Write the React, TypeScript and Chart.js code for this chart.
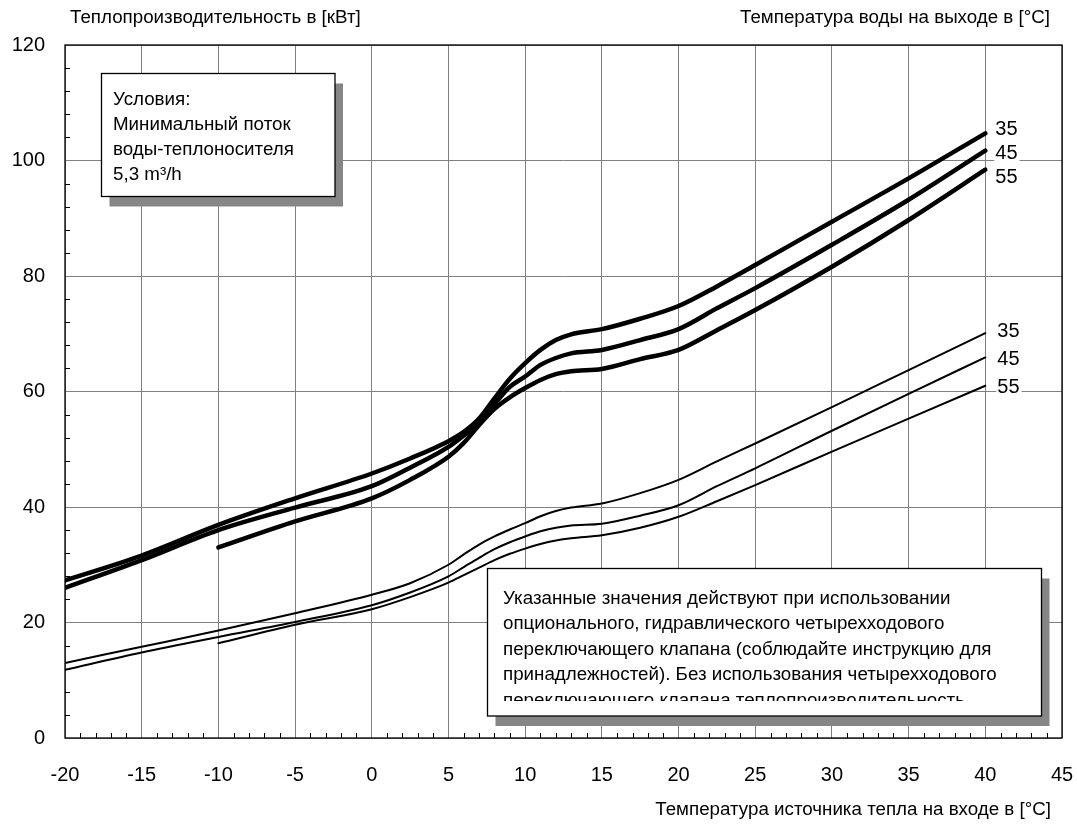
import React, { useEffect, useRef } from "react";
import { Chart, registerables } from "chart.js";

Chart.register(...registerables);

// ---- data ----
const inletTemps = [-20, -15, -10, -5, 0, 2.5, 5, 6, 7, 8, 9, 10, 11, 12, 13, 15, 17.5, 20, 22.5, 25, 30, 35, 40];

const heavy35 = [27.3, 31.6, 36.9, 41.5, 45.8, 48.4, 51.4, 53.0, 55.3, 58.8, 62.2, 64.9, 67.2, 68.9, 69.9, 70.8, 72.6, 74.8, 78.2, 81.9, 89.4, 96.9, 104.7];
const heavy45 = [26.0, 30.8, 36.0, 39.9, 43.6, 46.8, 50.4, 52.4, 54.6, 57.8, 60.8, 62.6, 64.6, 65.8, 66.6, 67.2, 68.9, 70.8, 74.4, 77.9, 85.4, 93.2, 101.7];
const heavy55 = [null, null, 33.0, 37.5, 41.5, 44.7, 48.7, 51.1, 54.2, 57.0, 59.0, 60.6, 62.0, 63.0, 63.5, 63.9, 65.6, 67.2, 70.6, 74.1, 81.6, 89.7, 98.4];

const thin35 = [13.0, 15.8, 18.6, 21.6, 24.8, 26.8, 30.0, 31.8, 33.5, 34.9, 36.1, 37.2, 38.4, 39.3, 39.9, 40.6, 42.4, 44.7, 47.9, 51.0, 57.3, 63.7, 70.1];
const thin45 = [11.8, 14.8, 17.5, 20.1, 23.0, 25.2, 28.0, 29.6, 31.2, 32.7, 33.9, 34.9, 35.8, 36.4, 36.8, 37.1, 38.5, 40.3, 43.6, 46.7, 53.2, 59.6, 65.9];
const thin55 = [null, null, 16.4, 19.6, 22.3, 24.4, 26.9, 28.2, 29.5, 30.8, 31.9, 32.8, 33.6, 34.2, 34.6, 35.1, 36.4, 38.3, 41.0, 43.8, 49.6, 55.3, 61.0];

const outletLabels = ["35", "45", "55"];

const xTickValues = [-20, -15, -10, -5, 0, 5, 10, 15, 20, 25, 30, 35, 40, 45];
const yTickValues = [0, 20, 40, 60, 80, 100, 120];

const titleLeft = "Теплопроизводительность в [кВт]";
const titleRight = "Температура воды на выходе в [°C]";
const titleBottom = "Температура источника тепла на входе в [°C]";

const box1Lines = ["Условия:", "Минимальный поток", "воды-теплоносителя", "5,3 m³/h"];
const box2Lines = [
  "Указанные значения действуют при использовании",
  "опционального, гидравлического четырехходового",
  "переключающего клапана (соблюдайте инструкцию для",
  "принадлежностей). Без использования четырехходового",
  "переключающего клапана теплопроизводительность",
];

const FONT = '"Liberation Sans", Arial, Helvetica, sans-serif';
const TEXT_SIZE = 18.75;

function toPoints(ys: (number | null)[]) {
  return inletTemps.map((x, i) => ({ x, y: ys[i] }));
}

function drawBox(
  ctx: CanvasRenderingContext2D,
  x: number,
  y: number,
  w: number,
  h: number,
  lines: string[],
  textX: number,
  firstY: number,
  lineH: number,
  clipBottom: number
) {
  ctx.save();
  ctx.fillStyle = "#868686";
  ctx.fillRect(x + 8, y + 10, w, h);
  ctx.fillStyle = "#ffffff";
  ctx.fillRect(x, y, w, h);
  ctx.strokeStyle = "#000";
  ctx.lineWidth = 1.3;
  ctx.strokeRect(x, y, w, h);
  ctx.beginPath();
  ctx.rect(x, y, w, clipBottom - y);
  ctx.clip();
  ctx.fillStyle = "#000";
  ctx.font = `${TEXT_SIZE}px ${FONT}`;
  ctx.textAlign = "left";
  ctx.textBaseline = "middle";
  lines.forEach((t, i) => ctx.fillText(t, textX, firstY + i * lineH));
  ctx.restore();
}

const overlayPlugin = {
  id: "overlay",
  beforeDatasetsDraw(chart: any) {
    const { ctx, chartArea, scales } = chart;
    const xs = scales.x;
    const ys = scales.y;
    ctx.save();
    ctx.strokeStyle = "#000";
    ctx.lineWidth = 1;
    for (let v = -19; v < 45; v++) {
      if (v % 5 === 0) continue;
      const px = Math.round(xs.getPixelForValue(v)) + 0.5;
      ctx.beginPath();
      ctx.moveTo(px, chartArea.bottom);
      ctx.lineTo(px, chartArea.bottom - 5);
      ctx.stroke();
    }
    for (let v = 4; v < 120; v += 4) {
      if (v % 20 === 0) continue;
      const py = Math.round(ys.getPixelForValue(v)) + 0.5;
      ctx.beginPath();
      ctx.moveTo(chartArea.left, py);
      ctx.lineTo(chartArea.left + 5, py);
      ctx.stroke();
    }
    ctx.lineWidth = 1.3;
    ctx.strokeRect(chartArea.left, chartArea.top, chartArea.right - chartArea.left, chartArea.bottom - chartArea.top);
    ctx.restore();
  },
  afterDatasetsDraw(chart: any) {
    const { ctx, scales } = chart;
    const xs = scales.x;
    const ys = scales.y;
    ctx.save();
    ctx.font = `20px ${FONT}`;
    ctx.textAlign = "left";
    ctx.textBaseline = "middle";
    const groups = [
      { data: [heavy35, heavy45, heavy55], dx: 10, dy: [-5, 2, 6.5] },
      { data: [thin35, thin45, thin55], dx: 12, dy: [-2.5, 1.3, 1] },
    ];
    groups.forEach((g) => {
      g.data.forEach((arr, i) => {
        const last = arr[arr.length - 1] as number;
        const px = xs.getPixelForValue(inletTemps[inletTemps.length - 1]) + g.dx;
        const py = ys.getPixelForValue(last) + g.dy[i];
        const t = outletLabels[i];
        const w = ctx.measureText(t).width;
        ctx.fillStyle = "#fff";
        ctx.fillRect(px - 1, py - 9, w + 3, 18);
        ctx.fillStyle = "#000";
        ctx.fillText(t, px, py + 1);
      });
    });
    ctx.restore();

    drawBox(ctx, 101.5, 73.5, 233.5, 123, box1Lines, 113, 100, 25, 196);
    drawBox(ctx, 487.5, 568.5, 554, 147.5, box2Lines, 503, 598.5, 25.5, 701);

    ctx.save();
    ctx.fillStyle = "#000";
    ctx.font = `${TEXT_SIZE}px ${FONT}`;
    ctx.textBaseline = "middle";
    ctx.textAlign = "left";
    ctx.fillText(titleLeft, 70, 18);
    ctx.textAlign = "right";
    ctx.fillText(titleRight, 1050, 18);
    ctx.fillText(titleBottom, 1051, 810);
    ctx.restore();
  },
};

export default function App() {
  const ref = useRef<HTMLCanvasElement | null>(null);

  useEffect(() => {
    if (!ref.current) return;
    const heavy = { borderColor: "#000", borderWidth: 4.5, pointRadius: 0, borderCapStyle: "round", borderJoinStyle: "round", cubicInterpolationMode: "monotone", fill: false };
    const thin = { borderColor: "#000", borderWidth: 2, pointRadius: 0, borderCapStyle: "round", borderJoinStyle: "round", cubicInterpolationMode: "monotone", fill: false };
    const chart = new Chart(ref.current, {
      type: "line",
      data: {
        datasets: [
          { label: "35 heavy", data: toPoints(heavy35), ...heavy },
          { label: "45 heavy", data: toPoints(heavy45), ...heavy },
          { label: "55 heavy", data: toPoints(heavy55), ...heavy },
          { label: "35 thin", data: toPoints(thin35), ...thin },
          { label: "45 thin", data: toPoints(thin45), ...thin },
          { label: "55 thin", data: toPoints(thin55), ...thin },
        ] as any,
      },
      options: {
        animation: false,
        responsive: true,
        maintainAspectRatio: false,
        parsing: false as any,
        layout: { padding: { left: 0, right: 15, top: 45, bottom: 0 } },
        plugins: { legend: { display: false }, tooltip: { enabled: false }, title: { display: false } },
        scales: {
          x: {
            type: "linear",
            min: -20,
            max: 45,
            afterBuildTicks: (s: any) => {
              s.ticks = xTickValues.map((v) => ({ value: v }));
            },
            afterFit: (s: any) => {
              s.height = 87;
              s.paddingLeft = 0;
              s.paddingRight = 0;
            },
            grid: { color: "#808080", lineWidth: 1, drawTicks: false },
            border: { display: false },
            ticks: {
              autoSkip: false,
              maxRotation: 0,
              padding: 25,
              color: "#000",
              font: { family: FONT, size: 20 },
              callback: (v: any) => String(v),
            },
          },
          y: {
            type: "linear",
            min: 0,
            max: 120,
            afterBuildTicks: (s: any) => {
              s.ticks = yTickValues.map((v) => ({ value: v }));
            },
            afterFit: (s: any) => {
              s.width = 65;
              s.paddingTop = 0;
              s.paddingBottom = 0;
            },
            grid: { color: "#808080", lineWidth: 1, drawTicks: false },
            border: { display: false },
            ticks: {
              padding: 20,
              color: "#000",
              font: { family: FONT, size: 20 },
              callback: (v: any) => String(v),
            },
          },
        },
      } as any,
      plugins: [overlayPlugin as any],
    });
    return () => chart.destroy();
  }, []);

  return (
    <div style={{ position: "absolute", left: 0, top: 0, width: 1077, height: 825, background: "#fff" }}>
      <canvas ref={ref} />
    </div>
  );
}
